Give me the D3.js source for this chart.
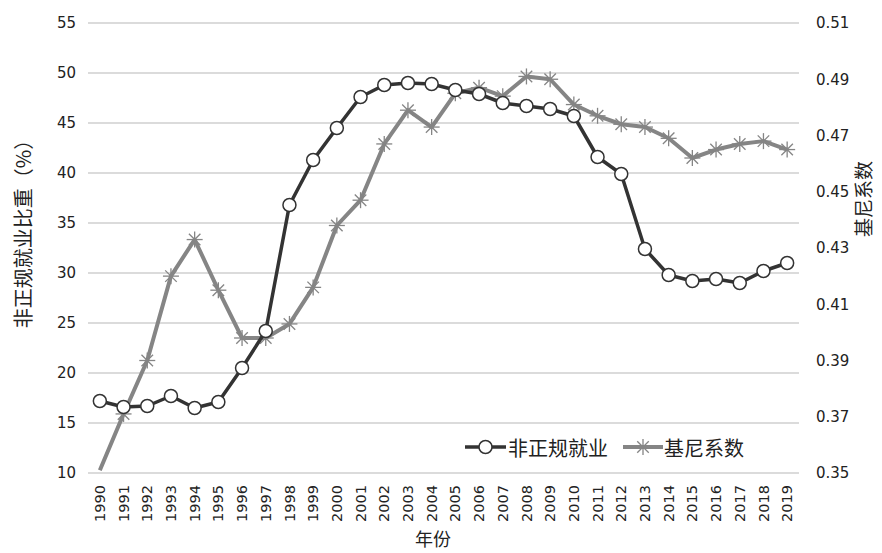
<!DOCTYPE html>
<html><head><meta charset="utf-8">
<script src="https://cdn.jsdelivr.net/npm/d3@7"></script>
<style>body{margin:0;background:#fff}svg{display:block}</style>
</head><body>
<svg id="c" width="882" height="553"></svg>
<script>
const years = [1990,1991,1992,1993,1994,1995,1996,1997,1998,1999,2000,2001,2002,2003,2004,2005,2006,2007,2008,2009,2010,2011,2012,2013,2014,2015,2016,2017,2018,2019];
const informal = [17.2,16.6,16.7,17.7,16.5,17.1,20.5,24.2,36.8,41.3,44.5,47.6,48.8,49.0,48.9,48.3,47.9,47.0,46.7,46.4,45.7,41.6,39.9,32.4,29.8,29.2,29.4,29.0,30.2,31.0];
const gini = [0.351,0.371,0.390,0.420,0.433,0.415,0.398,0.398,0.403,0.416,0.438,0.447,0.467,0.479,0.473,0.485,0.487,0.484,0.491,0.490,0.481,0.477,0.474,0.473,0.469,0.462,0.465,0.467,0.468,0.465];
const leftTicks = [10,15,20,25,30,35,40,45,50,55];
const rightTicks = [0.35,0.37,0.39,0.41,0.43,0.45,0.47,0.49,0.51];
const seriesNames = ["非正规就业","基尼系数"];
const leftTitle = "非正规就业比重（%）";
const rightTitle = "基尼系数";
const xTitle = "年份";

const svg = d3.select("#c");
const L = 88, R = 799, T = 23, B = 473;
const font = "'DejaVu Sans', Verdana, sans-serif";
const cjk = "'Noto Sans CJK SC', sans-serif";

const x = d3.scaleBand().domain(years).range([L, R]);
const yL = d3.scaleLinear().domain([10,55]).range([B, T]);
const yR = d3.scaleLinear().domain([0.35,0.51]).range([B, T]);
const cx = d => x(d) + x.bandwidth()/2;

// gridlines
svg.append("g").selectAll("line").data(leftTicks).join("line")
  .attr("x1", L).attr("x2", R).attr("y1", d=>yL(d)).attr("y2", d=>yL(d))
  .attr("stroke", "#cfcfcf").attr("stroke-width", 1.5);

// left axis
const gl = svg.append("g").attr("transform", `translate(${L-12},0)`)
  .call(d3.axisLeft(yL).tickValues(leftTicks).tickSize(0).tickPadding(0));
gl.select(".domain").remove();
gl.selectAll("text").attr("font-family", font).attr("font-size", 15).attr("fill", "#222");

// right axis
const gr = svg.append("g").attr("transform", `translate(${R+17},0)`)
  .call(d3.axisRight(yR).tickValues(rightTicks).tickSize(0).tickPadding(0).tickFormat(d3.format(".2f")));
gr.select(".domain").remove();
gr.selectAll("text").attr("font-family", font).attr("font-size", 15).attr("fill", "#222");

// x axis
const gx = svg.append("g").attr("transform", `translate(0,${B+10})`)
  .call(d3.axisBottom(x).tickSize(0).tickPadding(0));
gx.select(".domain").remove();
gx.selectAll(".tick text").attr("font-family", font).attr("font-size", 14.5).attr("fill", "#222")
  .attr("text-anchor", "end").attr("dy", "0.35em").attr("x", -2).attr("y", 0)
  .attr("transform", "rotate(-90)");

// titles
svg.append("text").attr("transform", `translate(22,229) rotate(-90)`).attr("text-anchor","middle")
  .attr("dominant-baseline","central").attr("font-family", cjk).attr("font-size", 20).attr("fill","#222").text(leftTitle);
svg.append("text").attr("transform", `translate(862,199) rotate(-90)`).attr("text-anchor","middle")
  .attr("dominant-baseline","central").attr("font-family", cjk).attr("font-size", 19).attr("fill","#222").text(rightTitle);
svg.append("text").attr("x", 433).attr("y", 538).attr("text-anchor","middle")
  .attr("dominant-baseline","central").attr("font-family", cjk).attr("font-size", 18).attr("fill","#222").text(xTitle);

const dark = "#333333", grey = "#858585";

function star(g, px, py, s, col){
  const a = [[-s,0,s,0],[0,-s,0,s],[-s*0.72,-s*0.72,s*0.72,s*0.72],[-s*0.72,s*0.72,s*0.72,-s*0.72]];
  a.forEach(l => g.append("line").attr("x1",px+l[0]).attr("y1",py+l[1]).attr("x2",px+l[2]).attr("y2",py+l[3])
    .attr("stroke", col).attr("stroke-width", 1.3));
}

// gini series (right axis)
const lineR = d3.line().x((d,i)=>cx(years[i])).y(d=>yR(d));
svg.append("path").datum(gini).attr("d", lineR).attr("fill","none").attr("stroke", grey).attr("stroke-width", 4).attr("stroke-linejoin","round");
const gs = svg.append("g");
gini.forEach((v,i)=>{ if(i>0) star(gs, cx(years[i]), yR(v), 8, grey); });

// informal series (left axis)
const lineL = d3.line().x((d,i)=>cx(years[i])).y(d=>yL(d));
svg.append("path").datum(informal).attr("d", lineL).attr("fill","none").attr("stroke", dark).attr("stroke-width", 3.5).attr("stroke-linejoin","round");
svg.append("g").selectAll("circle").data(informal).join("circle")
  .attr("cx", (d,i)=>cx(years[i])).attr("cy", d=>yL(d)).attr("r", 6.5)
  .attr("fill", "#fff").attr("stroke", dark).attr("stroke-width", 1.5);

// legend
const lg = svg.append("g");
const ly = 447;
lg.append("line").attr("x1",465).attr("x2",506).attr("y1",ly).attr("y2",ly).attr("stroke",dark).attr("stroke-width",3.5);
lg.append("circle").attr("cx",485.5).attr("cy",ly).attr("r",6.5).attr("fill","#fff").attr("stroke",dark).attr("stroke-width",1.5);
lg.append("text").attr("x",508).attr("y",ly).attr("dominant-baseline","central").attr("font-family",cjk).attr("font-size",20).attr("fill","#222").text(seriesNames[0]);
lg.append("line").attr("x1",623).attr("x2",663).attr("y1",ly).attr("y2",ly).attr("stroke",grey).attr("stroke-width",4);
star(lg, 643, ly, 8, grey);
lg.append("text").attr("x",664).attr("y",ly).attr("dominant-baseline","central").attr("font-family",cjk).attr("font-size",20).attr("fill","#222").text(seriesNames[1]);
</script>
</body></html>
